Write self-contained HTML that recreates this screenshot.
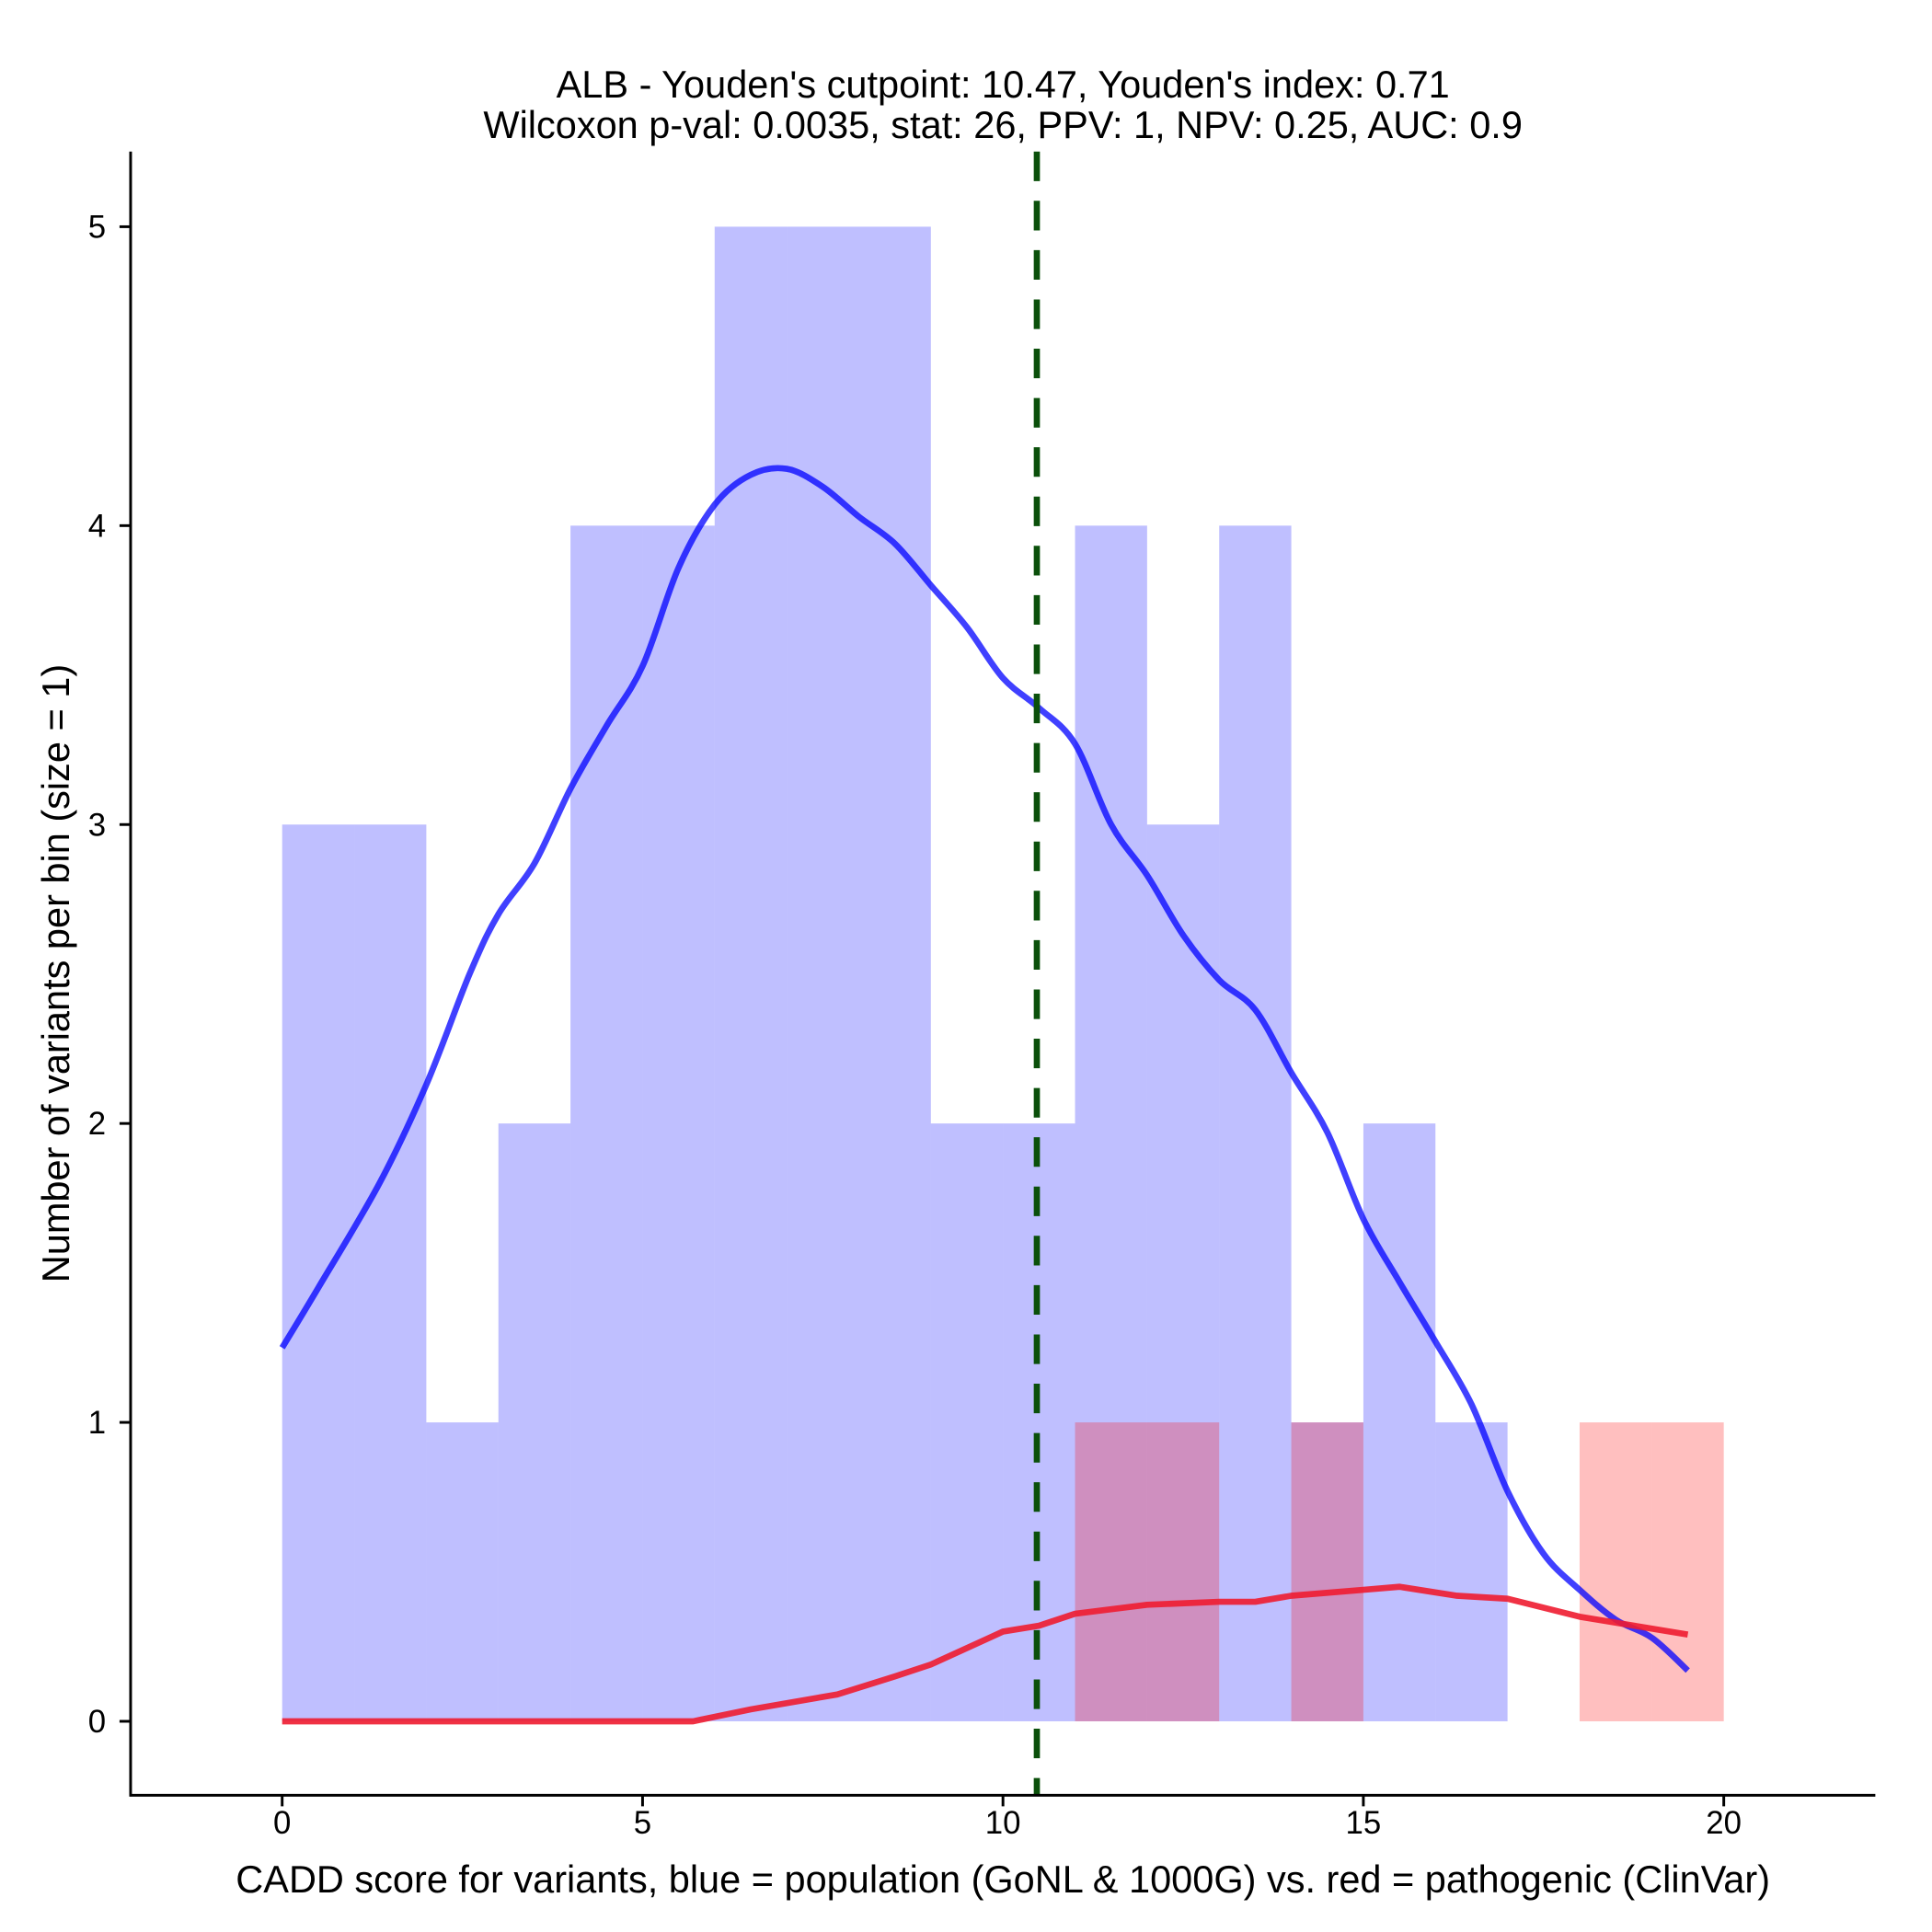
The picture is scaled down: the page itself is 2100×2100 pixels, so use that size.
<!DOCTYPE html>
<html><head><meta charset="utf-8"><style>
html,body{margin:0;padding:0;background:#fff;}
svg{display:block;font-family:"Liberation Sans",Arial,sans-serif;}
</style></head><body>
<svg id="chart" width="2100" height="2100" viewBox="0 0 1568 1568" xmlns="http://www.w3.org/2000/svg">
<g id="bars"></g>
<g id="lines"></g>
<g id="axes"></g>
<text x="814" y="79" font-size="31" text-anchor="middle">ALB - Youden's cutpoint: 10.47, Youden's index: 0.71</text>
<text x="814" y="112" font-size="31" text-anchor="middle">Wilcoxon p-val: 0.0035, stat: 26, PPV: 1, NPV: 0.25, AUC: 0.9</text>
<text x="814" y="1536" font-size="31" text-anchor="middle">CADD score for variants, blue = population (GoNL &amp; 1000G) vs. red = pathogenic (ClinVar)</text>
<text transform="translate(56,790) rotate(-90)" font-size="31" text-anchor="middle">Number of variants per bin (size = 1)</text>
</svg>
<script>
const blueCounts = [3,3,1,2,4,4,5,5,5,2,2,4,3,4,1,2,1];
const redBins = [11,12,14,18,19];
const redCounts = [1,1,1,1,1];
const blueX = [0,0.5,1.35,2,2.6,3,3.5,4,4.5,5,5.5,6,6.5,7,7.5,8,8.5,9,9.5,10,10.5,11,11.5,12,12.5,13,13.5,14,14.5,15,15.5,16,16.5,17,17.5,18,18.5,19,19.5];
const blueY = [1.25,1.45,1.8,2.13,2.5,2.7,2.87,3.12,3.33,3.53,3.86,4.07,4.17,4.19,4.13,4.03,3.94,3.8,3.66,3.49,3.39,3.27,3.0,2.83,2.63,2.48,2.38,2.17,1.97,1.68,1.47,1.27,1.06,0.77,0.56,0.44,0.34,0.28,0.17];
const redX = [0,5.7,6.5,7.7,8.5,9,10,10.5,11,12,13,13.5,14,15,15.5,16.3,17,18,19.5];
const redY = [0,0,0.04,0.09,0.15,0.19,0.3,0.32,0.36,0.39,0.4,0.4,0.42,0.44,0.45,0.42,0.41,0.35,0.29];
const xTicks = [0,5,10,15,20];
const yTicks = [0,1,2,3,4,5];
const cutpoint = 10.47;

const NS = "http://www.w3.org/2000/svg";
const sx = v => 229 + v * 58.5;
const sy = v => 1397 - v * 242.6;
function mk(tag, attrs, parent){const e=document.createElementNS(NS,tag);for(const k in attrs)e.setAttribute(k,attrs[k]);parent.appendChild(e);return e;}
const bars = document.getElementById('bars'), lines = document.getElementById('lines'), axes = document.getElementById('axes');

blueCounts.forEach((c,i)=>{
  const r = mk('rect',{x:sx(i),y:sy(c),width:sx(i+1)-sx(i),height:sy(0)-sy(c),fill:'#0000ff','fill-opacity':0.25},bars);
  
  
});
redBins.forEach((b,i)=>{
  const c = redCounts[i];
  const r = mk('rect',{x:sx(b),y:sy(c),width:sx(b+1)-sx(b),height:sy(0)-sy(c),fill:'#ff0000','fill-opacity':0.25},bars);
  
  
});

function smooth(xs, ys){
  const p = xs.map((x,i)=>[sx(x), sy(ys[i])]);
  let d = 'M'+p[0][0].toFixed(1)+','+p[0][1].toFixed(1);
  for(let i=0;i<p.length-1;i++){
    const p0=p[Math.max(0,i-1)], p1=p[i], p2=p[i+1], p3=p[Math.min(p.length-1,i+2)];
    const c1=[p1[0]+(p2[0]-p0[0])/6, p1[1]+(p2[1]-p0[1])/6];
    const c2=[p2[0]-(p3[0]-p1[0])/6, p2[1]-(p3[1]-p1[1])/6];
    d += ' C'+c1[0].toFixed(1)+','+c1[1].toFixed(1)+' '+c2[0].toFixed(1)+','+c2[1].toFixed(1)+' '+p2[0].toFixed(1)+','+p2[1].toFixed(1);
  }
  return d;
}
function linear(xs, ys){return xs.map((x,i)=>(i?'L':'M')+sx(x).toFixed(1)+','+sy(ys[i]).toFixed(1)).join(' ');}
const bl = mk('path',{d:smooth(blueX,blueY),fill:'none',stroke:'#0000ff','stroke-opacity':0.75,'stroke-width':5,'stroke-linejoin':'round'},lines);


const rl = mk('path',{d:linear(redX,redY),fill:'none',stroke:'#ee1c30','stroke-opacity':0.9,'stroke-width':5,'stroke-linejoin':'round'},lines);


const cl = mk('line',{x1:sx(cutpoint),x2:sx(cutpoint),y1:123,y2:1457,stroke:'#0b500b','stroke-width':5,'stroke-dasharray':'24,16'},lines);



const ya = mk('line',{x1:106,x2:106,y1:123,y2:1458,stroke:'#000','stroke-width':2.2},axes);


const xa = mk('line',{x1:105,x2:1522,y1:1457,y2:1457,stroke:'#000','stroke-width':2.2},axes);


xTicks.forEach(t=>{
  mk('line',{x1:sx(t),x2:sx(t),y1:1457,y2:1466,stroke:'#000','stroke-width':2.2},axes);
  const tx = mk('text',{x:sx(t),y:1488,'font-size':26,'text-anchor':'middle'},axes);
  tx.textContent = t;
  
  
});
yTicks.forEach(t=>{
  mk('line',{x1:97,x2:106,y1:sy(t),y2:sy(t),stroke:'#000','stroke-width':2.2},axes);
  const tx = mk('text',{x:86,y:sy(t)+9,'font-size':26,'text-anchor':'end'},axes);
  tx.textContent = t;
  
  
});
</script>
</body></html>
